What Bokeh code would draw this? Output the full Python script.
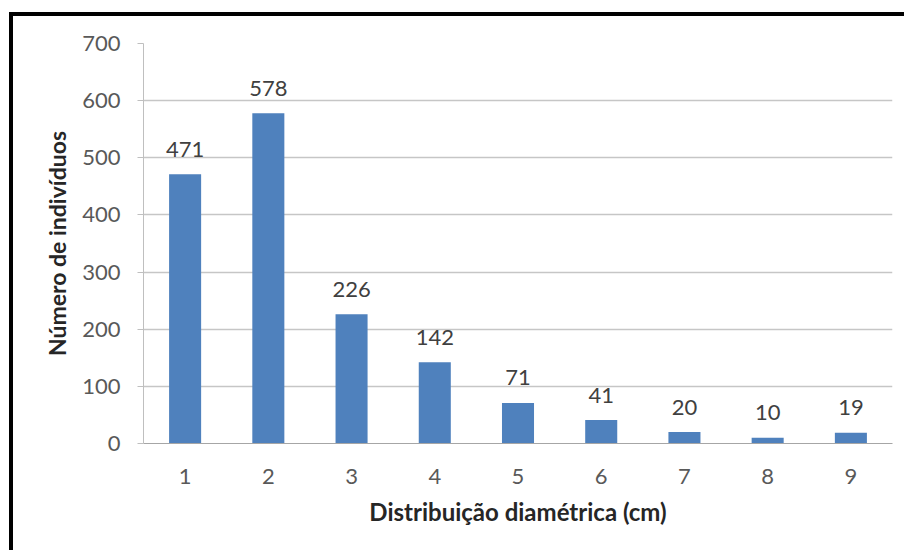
from bokeh.plotting import figure
from bokeh.models import Range1d, FixedTicker, ColumnDataSource
from bokeh.core.properties import value
from bokeh.embed import file_html
from bokeh.resources import INLINE

# Diameter classes (cm) and number of individuals per class
classes = [1, 2, 3, 4, 5, 6, 7, 8, 9]
counts = [471, 578, 226, 142, 71, 41, 20, 10, 19]
y_ticks = [0, 100, 200, 300, 400, 500, 600, 700]

FONT = "Lato"
BAR = "#4F81BD"

src = ColumnDataSource(dict(x=classes, top=counts, label=[str(c) for c in counts]))

p = figure(
    width=895, height=538,
    x_range=Range1d(0.5, 9.5), y_range=Range1d(0, 700),
    output_backend="svg", toolbar_location=None,
    min_border_left=130, min_border_right=16,
    min_border_top=27, min_border_bottom=111,
)
p.styles = {
    "margin-left": "9px", "margin-top": "12px",
    "border-top": "4px solid black", "border-left": "4px solid black",
}
p.outline_line_color = None
p.background_fill_color = "white"
p.border_fill_color = "white"

p.vbar(x="x", top="top", width=0.385, source=src, fill_color=BAR, line_color=None)
p.text(x="x", y="top", text="label", source=src, text_align="center",
       text_baseline="middle", y_offset=-25, text_font_size="22px",
       text_color="#404040", text_font=value(FONT))

# y axis
p.yaxis.ticker = FixedTicker(ticks=y_ticks)
p.yaxis.minor_tick_line_color = None
p.yaxis.major_tick_in = 0
p.yaxis.major_tick_out = 6
p.yaxis.major_tick_line_color = "#bfbfbf"
p.yaxis.axis_line_color = "#bfbfbf"
p.yaxis.major_label_standoff = 17
p.yaxis.major_label_text_font = FONT
p.yaxis.major_label_text_font_size = "22px"
p.yaxis.major_label_text_color = "#595959"
p.yaxis.axis_label = "Número de indivíduos"
p.yaxis.axis_label_text_font = FONT
p.yaxis.axis_label_text_font_style = "bold"
p.yaxis.axis_label_text_font_size = "23px"
p.yaxis.axis_label_text_color = "#262626"
p.yaxis.axis_label_standoff = 8

# x axis
p.xaxis.ticker = FixedTicker(ticks=classes)
p.xaxis.minor_tick_line_color = None
p.xaxis.major_tick_line_color = None
p.xaxis.axis_line_color = "#a6a6a6"
p.xaxis.major_label_standoff = 19
p.xaxis.major_label_text_font = FONT
p.xaxis.major_label_text_font_size = "22px"
p.xaxis.major_label_text_color = "#595959"
p.xaxis.axis_label = "Distribuição diamétrica (cm)"
p.xaxis.axis_label_text_font = FONT
p.xaxis.axis_label_text_font_style = "bold"
p.xaxis.axis_label_text_font_size = "24px"
p.xaxis.axis_label_text_color = "#262626"
p.xaxis.axis_label_standoff = 10

p.xgrid.grid_line_color = None
p.ygrid.grid_line_color = "#c6c6c6"
p.ygrid.grid_line_width = 1.5

open("out.html", "w").write(file_html(p, INLINE))
